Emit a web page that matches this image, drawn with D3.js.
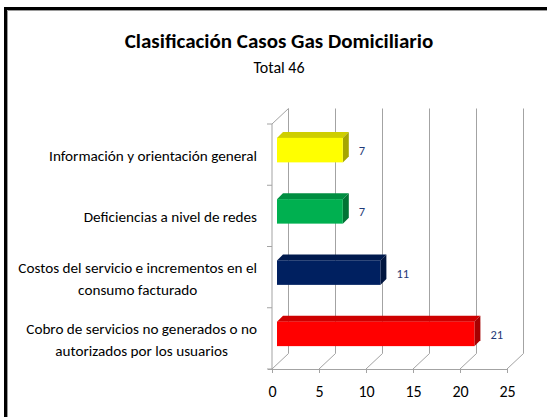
<!DOCTYPE html>
<html>
<head>
<meta charset="utf-8">
<script src="https://cdn.jsdelivr.net/npm/d3@7/dist/d3.min.js"></script>
<style>
  body { margin: 0; background: #fff; }
  svg text { font-family: Carlito, Calibri, Lato, sans-serif; }
</style>
</head>
<body>
<div class="chart"></div>
<script>
// data
var categoryLines = [
    ["Información y orientación general"],
    ["Deficiencias a nivel de redes"],
    ["Costos del servicio e incrementos en el", "consumo facturado"],
    ["Cobro de servicios no generados o no", "autorizados por los usuarios"]
];
var values = [7, 7, 11, 21];
var barColors = ["#FFFF00", "#00B050", "#002060", "#FF0000"];
var xTicks = [0, 5, 10, 15, 20, 25];
var title = "Clasificación Casos Gas Domiciliario";
var subtitle = "Total 46";

//************************************************************
// sizes and the fake 3d depth
//************************************************************
var W = 547, H = 417;
var plot = { left: 272, right: 507, top: 124, bottom: 369 };
var depth = { dx: 16.5, dy: -15.5 };     // wall depth
var barOff = { dx: 5, dy: -4.5 };        // bar front face inside the depth
var barDepth = { dx: 6, dy: -6 };
var gridColor = "#a3a3a3";

var svg = d3.select(".chart").append("svg")
    .attr("width", W)
    .attr("height", H);

// frame
svg.append("rect")
    .attr("x", 5.5).attr("y", 8.5)
    .attr("width", W + 20).attr("height", H + 20)
    .attr("fill", "none")
    .attr("stroke", "#000")
    .attr("stroke-width", 3);
svg.append("path")
    .attr("d", "M7.5," + H + "V10.5H" + W)
    .attr("fill", "none")
    .attr("stroke", "#9a9a9a")
    .attr("stroke-width", 1);

// titles
svg.append("text")
    .attr("x", 279).attr("y", 48)
    .attr("text-anchor", "middle")
    .attr("font-size", 21)
    .attr("font-weight", "bold")
    .text(title);
svg.append("text")
    .attr("x", 279).attr("y", 73)
    .attr("text-anchor", "middle")
    .attr("font-size", 16)
    .text(subtitle);

//************************************************************
// scales
//************************************************************
var x = d3.scaleLinear()
    .domain([xTicks[0], xTicks[xTicks.length - 1]])
    .range([plot.left, plot.right]);

var y = d3.scaleBand()
    .domain(d3.range(values.length))
    .range([plot.top, plot.bottom])
    .paddingInner(0.6)
    .paddingOuter(0.3);

//************************************************************
// walls: back grid, floor diagonals, left wall
//************************************************************
var walls = svg.append("g")
    .attr("fill", "none")
    .attr("stroke", gridColor)
    .attr("stroke-width", 1);

walls.selectAll(".grid")
    .data(xTicks)
    .enter()
    .append("line")
    .attr("x1", function (d) { return x(d) + depth.dx; })
    .attr("x2", function (d) { return x(d) + depth.dx; })
    .attr("y1", plot.top + depth.dy)
    .attr("y2", plot.bottom + depth.dy);

walls.selectAll(".floor")
    .data(xTicks)
    .enter()
    .append("line")
    .attr("x1", function (d) { return x(d); })
    .attr("x2", function (d) { return x(d) + depth.dx; })
    .attr("y1", plot.bottom)
    .attr("y2", plot.bottom + depth.dy);

// left front edge and its top diagonal
walls.append("path")
    .attr("d", "M" + plot.left + "," + plot.bottom + "V" + plot.top +
        "L" + (plot.left + depth.dx) + "," + (plot.top + depth.dy));

// category ticks on the left edge
var bounds = d3.range(values.length + 1).map(function (i) { return plot.top + i * y.step(); });
walls.selectAll(".ytick")
    .data(bounds)
    .enter()
    .append("line")
    .attr("x1", plot.left - 5)
    .attr("x2", plot.left)
    .attr("y1", function (d) { return d; })
    .attr("y2", function (d) { return d; });

// x axis on the floor front edge
var xAxis = d3.axisBottom(x)
    .tickValues(xTicks)
    .tickSize(4)
    .tickSizeOuter(0)
    .tickPadding(13);

var gx = svg.append("g")
    .attr("transform", "translate(0," + plot.bottom + ")")
    .call(xAxis)
    .attr("font-family", null)
    .attr("font-size", null);
gx.select(".domain").attr("stroke", gridColor).attr("d", "M" + (plot.left - 4) + ",0.5H" + plot.right);
gx.selectAll(".tick line").attr("stroke", gridColor);
gx.selectAll(".tick text")
    .attr("fill", "#000")
    .attr("font-size", 16);

//************************************************************
// bars (front, top, side faces)
//************************************************************
var bars = svg.selectAll(".bar")
    .data(values)
    .enter()
    .append("g")
    .attr("class", "bar");

function fx0() { return x(0) + barOff.dx; }
function fx1(d) { return x(d) + barOff.dx; }
function fy0(d, i) { return y(i) + barOff.dy; }

bars.append("polygon")
    .attr("fill", function (d, i) { return d3.color(barColors[i]).darker(0.6); })
    .attr("points", function (d, i) {
        var x0 = fx0(), x1 = fx1(d), y0 = fy0(d, i);
        return [[x0, y0], [x1, y0], [x1 + barDepth.dx, y0 + barDepth.dy], [x0 + barDepth.dx, y0 + barDepth.dy]].join(" ");
    });

bars.append("polygon")
    .attr("fill", function (d, i) { return d3.color(barColors[i]).darker(1.2); })
    .attr("points", function (d, i) {
        var x1 = fx1(d), y0 = fy0(d, i), h = y.bandwidth();
        return [[x1, y0], [x1 + barDepth.dx, y0 + barDepth.dy], [x1 + barDepth.dx, y0 + h + barDepth.dy], [x1, y0 + h]].join(" ");
    });

bars.append("rect")
    .attr("x", fx0())
    .attr("y", function (d, i) { return fy0(d, i); })
    .attr("width", function (d) { return fx1(d) - fx0(); })
    .attr("height", y.bandwidth())
    .attr("fill", function (d, i) { return barColors[i]; });

// value labels
bars.append("text")
    .attr("x", function (d) { return fx1(d) + barDepth.dx + 10; })
    .attr("y", function (d, i) { return y(i) + y.bandwidth() / 2 + 0.5; })
    .attr("font-size", 12.5)
    .attr("fill", "#1F3A78")
    .text(function (d) { return d; });

//************************************************************
// category labels: block right aligned, wrapped lines centred
//************************************************************
var labelRight = 257, lineH = 22;
categoryLines.forEach(function (lines, i) {
    var g = svg.append("g");
    var cy = y(i) + y.bandwidth() / 2 + 1;
    var texts = g.selectAll("text")
        .data(lines)
        .enter()
        .append("text")
        .attr("font-size", 15.2)
        .attr("fill", "#000")
        .attr("text-anchor", "middle")
        .attr("y", function (d, j) { return cy + (j - (lines.length - 1) / 2) * lineH + 5.5; })
        .text(function (d) { return d; });
    var maxW = d3.max(texts.nodes(), function (n) { return n.getComputedTextLength(); });
    texts.attr("x", labelRight - maxW / 2);
});
</script>
</body>
</html>
